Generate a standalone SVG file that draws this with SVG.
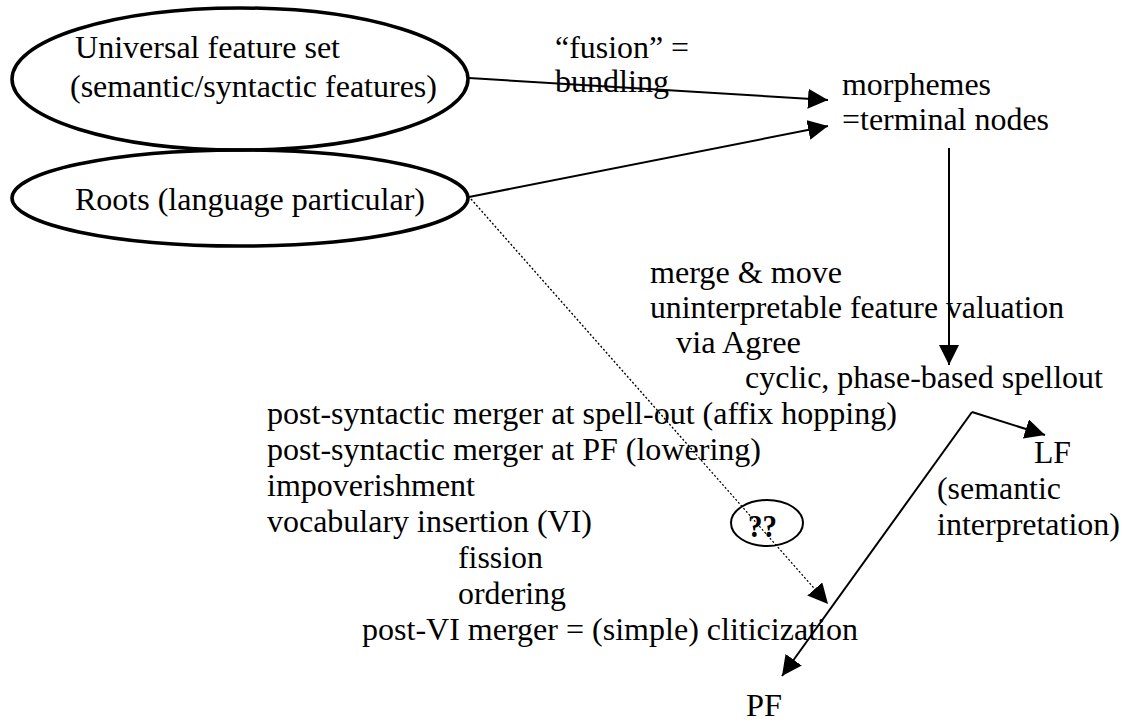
<svg xmlns="http://www.w3.org/2000/svg" width="1125" height="723" viewBox="0 0 1125 723">
<style>
text{font-family:"Liberation Serif","Times New Roman",Times,"DejaVu Serif",serif;font-size:31px;fill:#000}
.node{fill:none;stroke:#000;stroke-width:3.5}
.edge{fill:none;stroke:#000;stroke-width:2}
.dot{fill:none;stroke:#000;stroke-width:1.3;stroke-dasharray:2 2}
</style>
<defs>
<marker id="ah" viewBox="0 0 20 20" refX="20" refY="10" markerWidth="20" markerHeight="20" markerUnits="userSpaceOnUse" orient="auto">
<path d="M0,0 L20,10 L0,20 Z" fill="#000"/>
</marker>
</defs>
<rect width="1125" height="723" fill="#fff"/>
<g id="connectors">
<line class="edge" x1="469" y1="78" x2="828" y2="100" marker-end="url(#ah)"/>
<line class="edge" x1="469" y1="197" x2="828" y2="126" marker-end="url(#ah)"/>
<line class="dot" x1="471" y1="199" x2="828" y2="604" marker-end="url(#ah)"/>
<line class="edge" x1="949" y1="148" x2="949" y2="365" marker-end="url(#ah)"/>
<line class="edge" x1="972" y1="412" x2="1045" y2="435" marker-end="url(#ah)"/>
<line class="edge" x1="972" y1="412" x2="782" y2="676" marker-end="url(#ah)"/>
</g>
<g id="universal">
<ellipse class="node" cx="240" cy="79" rx="228" ry="71"/>
<text x="75" y="58" textLength="265" lengthAdjust="spacingAndGlyphs">Universal feature set</text>
<text x="70" y="97" textLength="367" lengthAdjust="spacingAndGlyphs">(semantic/syntactic features)</text>
</g>
<g id="roots">
<ellipse class="node" cx="240" cy="198" rx="228" ry="48"/>
<text x="75" y="210" textLength="350" lengthAdjust="spacingAndGlyphs">Roots (language particular)</text>
</g>
<g id="fusion-label">
<text x="555" y="58" textLength="134" lengthAdjust="spacingAndGlyphs">“fusion” =</text>
<text x="555" y="92" textLength="114" lengthAdjust="spacingAndGlyphs">bundling</text>
</g>
<g id="morphemes">
<text x="842" y="95" textLength="149" lengthAdjust="spacingAndGlyphs">morphemes</text>
<text x="842" y="130" textLength="207" lengthAdjust="spacingAndGlyphs">=terminal nodes</text>
</g>
<g id="syntax-label">
<text x="650" y="283" textLength="192" lengthAdjust="spacingAndGlyphs">merge &amp; move</text>
<text x="650" y="318" textLength="414" lengthAdjust="spacingAndGlyphs">uninterpretable feature valuation</text>
<text x="676" y="353" textLength="125" lengthAdjust="spacingAndGlyphs">via Agree</text>
<text x="745" y="388" textLength="358" lengthAdjust="spacingAndGlyphs">cyclic, phase-based spellout</text>
</g>
<g id="pf-ops">
<text x="267" y="424" textLength="630" lengthAdjust="spacingAndGlyphs">post-syntactic merger at spell-out (affix hopping)</text>
<text x="267" y="460" textLength="494" lengthAdjust="spacingAndGlyphs">post-syntactic merger at PF (lowering)</text>
<text x="267" y="496" textLength="208" lengthAdjust="spacingAndGlyphs">impoverishment</text>
<text x="267" y="532" textLength="325" lengthAdjust="spacingAndGlyphs">vocabulary insertion (VI)</text>
<text x="458" y="568" textLength="85" lengthAdjust="spacingAndGlyphs">fission</text>
<text x="458" y="604" textLength="108" lengthAdjust="spacingAndGlyphs">ordering</text>
<text x="362" y="640" textLength="496" lengthAdjust="spacingAndGlyphs">post-VI merger = (simple) cliticization</text>
</g>
<g id="question">
<ellipse cx="767" cy="523" rx="36" ry="23" fill="none" stroke="#000" stroke-width="2"/>
<text x="748" y="537" textLength="29" lengthAdjust="spacingAndGlyphs" font-weight="bold">??</text>
</g>
<g id="lf">
<text x="1034" y="463" textLength="37" lengthAdjust="spacingAndGlyphs">LF</text>
<text x="937" y="499" textLength="124" lengthAdjust="spacingAndGlyphs">(semantic</text>
<text x="937" y="535" textLength="183" lengthAdjust="spacingAndGlyphs">interpretation)</text>
</g>
<g id="pf">
<text x="746" y="716" textLength="36" lengthAdjust="spacingAndGlyphs">PF</text>
</g>
</svg>
